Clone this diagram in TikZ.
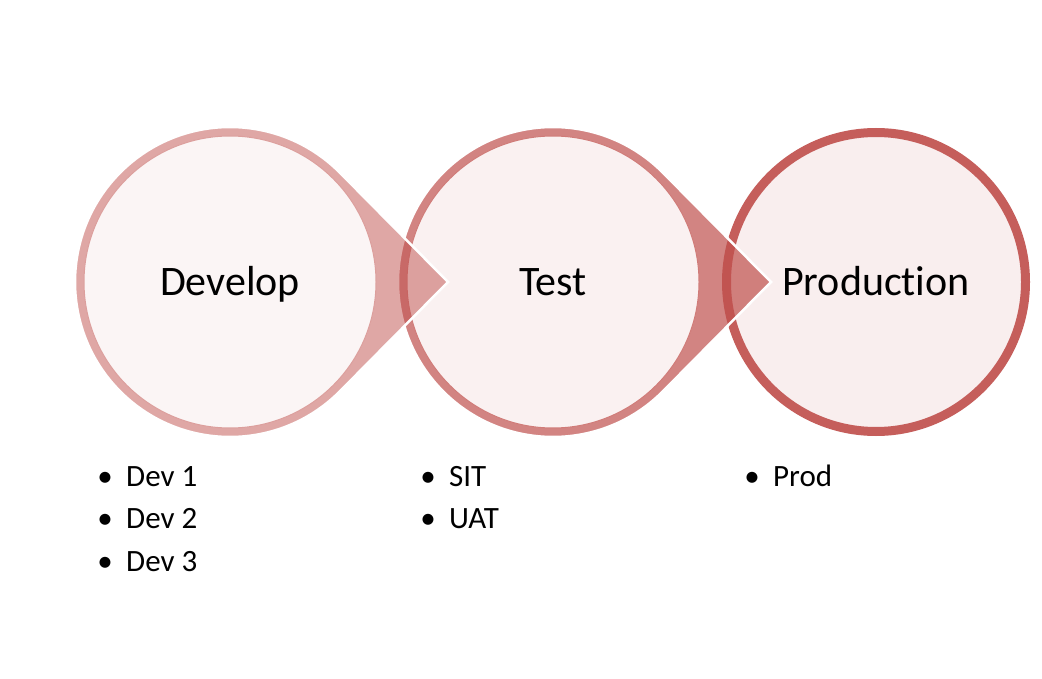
\documentclass[tikz,border=0pt]{standalone}
\usepackage{fontspec}
\setmainfont{Carlito}[Ligatures=NoCommon]
\definecolor{acc}{HTML}{C0504D}
\definecolor{fillA}{HTML}{FBF5F5}
\definecolor{fillB}{HTML}{FAF1F1}
\definecolor{fillC}{HTML}{F9EEEE}
\begin{document}
\begin{tikzpicture}[x=1pt,y=-1pt,
  innercirc/.style={circle, minimum size=292pt, inner sep=0pt, line width=1pt,
    font=\fontsize{42}{50}\selectfont, text height=27pt, text depth=0pt},
  pointer/.style={draw=white, line width=2.5pt, line join=miter},
  itemtext/.style={anchor=base west, font=\fontsize{31}{37}\selectfont, inner sep=0pt},
  bulletmark/.style={anchor=base, font=\fontsize{31}{37}\selectfont, inner sep=0pt}]
\useasboundingbox[fill=white] (0,0) rectangle (1042,679);

% circle 3 (Production)
\node[circle, minimum size=299pt, inner sep=0pt, draw=acc!92, line width=9pt, fill=fillC,
  font=\fontsize{42}{50}\selectfont, text height=27pt, text depth=0pt] (c3) at (876,282) {Production};

% circle 2 (Test) with pointer
\coordinate (p2) at (553,282);
\coordinate (tip2) at (771,282);
\path[pointer, fill=acc, fill opacity=0.7] (tip2) -- ([shift={(45:155)}]p2) arc[start angle=45, end angle=315, radius=155] -- cycle;
\node[innercirc, fill=fillB, draw=acc!75] (c2) at (p2) {Test};

% circle 1 (Develop) with pointer
\coordinate (p1) at (230,282);
\coordinate (tip1) at (448,282);
\path[pointer, fill=acc, fill opacity=0.5] (tip1) -- ([shift={(45:155)}]p1) arc[start angle=45, end angle=315, radius=155] -- cycle;
\node[innercirc, fill=fillA, draw=acc!55] (c1) at (p1) {Develop};

% bullet lists
\node[bulletmark] (b11) at (105,486) {•};
\node[itemtext] (t11) at (126,486) {Dev 1};
\node[bulletmark] (b12) at (105,528.5) {•};
\node[itemtext] (t12) at (126,528.5) {Dev 2};
\node[bulletmark] (b13) at (105,571) {•};
\node[itemtext] (t13) at (126,571) {Dev 3};

\node[bulletmark] (b21) at (428,486) {•};
\node[itemtext] (t21) at (449,486) {SIT};
\node[bulletmark] (b22) at (428,528.5) {•};
\node[itemtext] (t22) at (449,528.5) {UAT};

\node[bulletmark] (b31) at (752,486) {•};
\node[itemtext] (t31) at (773,486) {Prod};
\end{tikzpicture}
\end{document}
